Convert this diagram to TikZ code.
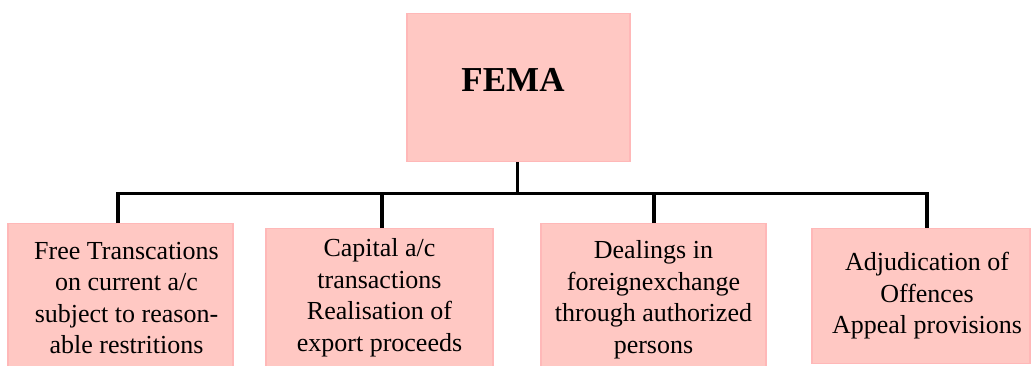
\documentclass[tikz,border=0pt]{standalone}
\usepackage{fontspec}
\setmainfont{Liberation Serif}
\definecolor{boxfill}{RGB}{255,200,195}
\definecolor{boxline}{RGB}{255,184,184}
\newcommand{\rsh}{\hspace*{12pt}}
\begin{document}
\begin{tikzpicture}[x=1pt,y=-1pt,
  pinkbox/.style={draw=boxline,fill=boxfill,line width=1.2pt,inner sep=2pt,align=center,anchor=north,
    font=\fontsize{26}{31.5}\selectfont},
  wire/.style={line width=3.2pt,black}]
\useasboundingbox (0,0) rectangle (1031,365);
\node[pinkbox,minimum width=223pt,minimum height=148pt,text depth=15pt,
  font=\fontsize{35}{40}\selectfont\bfseries] (fema) at (518.5,13) {FEMA\hspace*{11pt}};
\node[pinkbox,minimum width=225pt,minimum height=149pt] (b1) at (120.5,223)
  {\rsh Free Transcations\\\rsh on current a/c\\\rsh subject to reason-\\\rsh able restritions};
\node[pinkbox,minimum width=227pt,minimum height=138pt] (b2) at (379.5,228)
  {Capital a/c\\transactions\\Realisation of\\export proceeds};
\node[pinkbox,minimum width=225pt,minimum height=152pt] (b3) at (653.5,223)
  {Dealings in\\foreignexchange\\through authorized\\persons};
\node[pinkbox,minimum width=218pt,minimum height=135pt] (b4) at (921,228)
  {\rsh Adjudication of\\\rsh Offences\\\rsh Appeal provisions};
\coordinate (bus) at (517.5,193.5);
\draw[wire] ([xshift=-1pt]fema.south) -- (bus);
\draw[wire] ([xshift=-2.5pt]b1.north) |- (bus) -| ([xshift=6pt]b4.north);
\draw[wire] ([xshift=2.5pt]b2.north) -- ([xshift=2.5pt]b2.north |- bus);
\draw[wire] ([xshift=0.5pt]b3.north) -- ([xshift=0.5pt]b3.north |- bus);
\end{tikzpicture}
\end{document}
